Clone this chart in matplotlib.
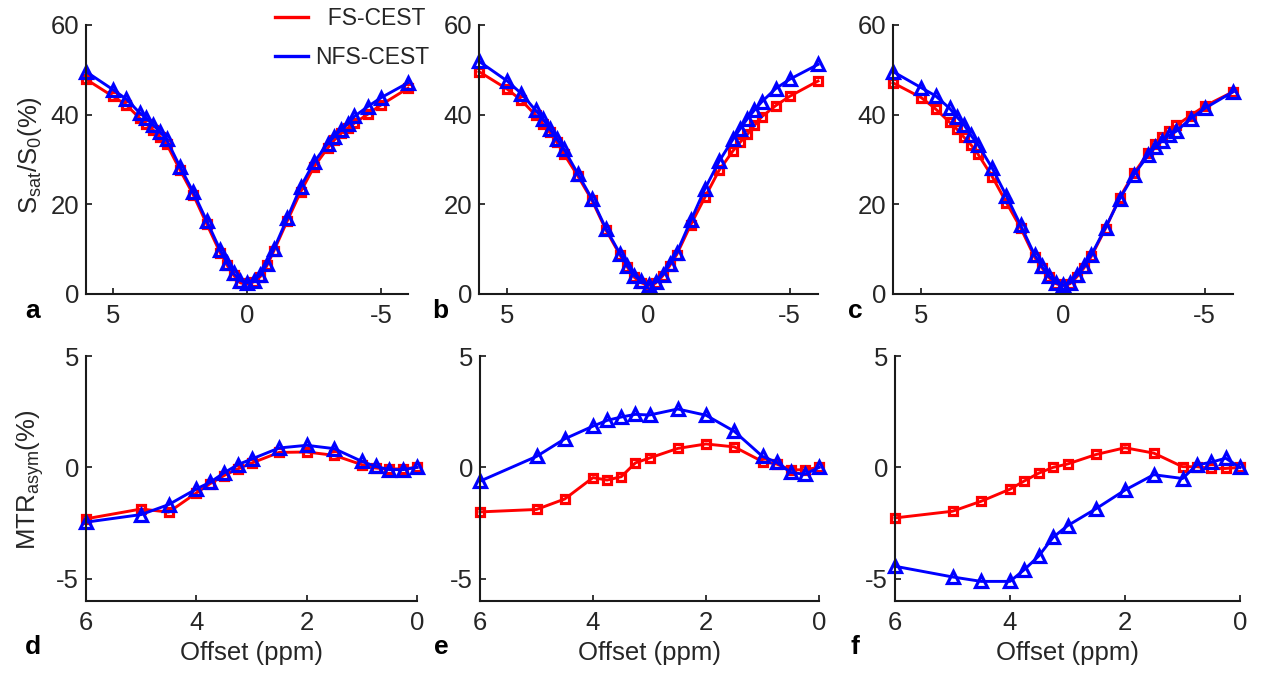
import matplotlib
matplotlib.use('Agg')
import matplotlib.pyplot as plt
from matplotlib.lines import Line2D

plt.rcParams['font.family'] = ['Liberation Sans', 'DejaVu Sans']
plt.rcParams['mathtext.default'] = 'regular'
plt.rcParams['axes.unicode_minus'] = False

# Z-spectrum offsets (ppm), 6 -> -6
z_off = [6, 5, 4.5, 4, 3.75, 3.5, 3.25, 3, 2.5, 2, 1.5, 1, 0.75, 0.5, 0.25, 0,
         -0.25, -0.5, -0.75, -1, -1.5, -2, -2.5, -3, -3.25, -3.5, -3.75, -4, -4.5, -5, -6]

fs_a = [47.9, 44.1, 42.2, 39.2, 37.9, 36.6, 35.1, 33.5, 27.7, 22.1, 15.6, 9.2, 6.5, 4.2, 2.5, 2.2,
        2.7, 3.9, 6.4, 9.6, 16.3, 22.8, 28.4, 32.5, 34.3, 35.8, 37.0, 38.1, 40.1, 42.2, 45.9]
nfs_a = [49.6, 45.6, 43.5, 40.4, 39.2, 37.7, 36.2, 34.5, 28.4, 22.7, 16.3, 9.8, 7.0, 4.6, 3.0, 2.5,
         3.0, 4.2, 6.8, 10.0, 16.9, 23.9, 29.4, 33.5, 35.1, 36.6, 37.9, 39.6, 41.8, 43.8, 47.1]

fs_b = [49.6, 45.7, 43.2, 39.9, 38.0, 36.1, 33.9, 31.3, 26.3, 20.9, 14.2, 8.6, 6.0, 3.7, 2.5, 1.9,
        2.4, 4.0, 6.3, 8.8, 15.5, 21.6, 27.6, 32.0, 33.9, 35.6, 37.6, 39.5, 42.0, 44.1, 47.5]
nfs_b = [51.9, 47.5, 44.7, 41.0, 39.1, 36.9, 34.6, 32.4, 26.8, 21.2, 14.5, 8.9, 6.3, 4.1, 2.8, 2.1,
         2.6, 4.3, 6.7, 9.2, 16.4, 23.5, 29.6, 34.6, 36.9, 39.1, 41.0, 42.8, 45.8, 47.9, 51.2]

fs_c = [47.1, 43.8, 41.3, 38.3, 36.8, 35.0, 33.3, 31.2, 26.2, 20.4, 14.8, 8.2, 5.9, 3.7, 2.3, 1.8,
        2.3, 3.9, 5.9, 8.4, 14.6, 21.5, 26.9, 31.4, 33.5, 35.1, 36.3, 37.6, 39.8, 41.9, 45.1]
nfs_c = [49.6, 46.0, 44.2, 41.4, 39.5, 37.8, 35.4, 33.3, 28.1, 21.9, 15.4, 8.7, 6.2, 4.0, 2.5, 1.9,
         2.5, 4.2, 6.2, 8.7, 14.8, 21.2, 26.6, 30.9, 32.7, 34.2, 35.4, 36.3, 39.1, 41.4, 45.1]

# MTRasym offsets (ppm)
m_off = [6, 5, 4.5, 4, 3.75, 3.5, 3.25, 3, 2.5, 2, 1.5, 1, 0.75, 0.5, 0.25, 0]

fs_d = [-2.31, -1.87, -2.01, -1.15, -0.73, -0.37, -0.07, 0.19, 0.67, 0.69, 0.54, 0.12, -0.03, -0.07, -0.07, 0]
nfs_d = [-2.46, -2.12, -1.67, -0.97, -0.67, -0.25, 0.12, 0.37, 0.87, 0.99, 0.84, 0.27, 0.04, -0.10, -0.10, 0]
fs_e = [-2.0, -1.89, -1.42, -0.46, -0.57, -0.42, 0.2, 0.42, 0.85, 1.05, 0.92, 0.26, 0.15, -0.11, -0.11, 0]
nfs_e = [-0.62, 0.49, 1.28, 1.85, 2.11, 2.26, 2.38, 2.35, 2.62, 2.34, 1.62, 0.49, 0.23, -0.23, -0.31, 0]
fs_f = [-2.27, -1.97, -1.52, -0.98, -0.61, -0.26, 0.0, 0.15, 0.58, 0.88, 0.64, 0.03, 0.03, -0.05, -0.05, 0]
nfs_f = [-4.44, -4.92, -5.12, -5.12, -4.59, -3.98, -3.14, -2.62, -1.85, -1.02, -0.33, -0.5, 0.11, 0.23, 0.41, 0]

W, H = 1264, 675
fig = plt.figure(figsize=(W / 100, H / 100), dpi=100)
tc = '#262626'
fsz = 18.5


def box(l, r, t, b):
    # pixel box -> figure fraction
    return [l / W, 1 - b / H, (r - l) / W, (b - t) / H]


def style(ax):
    for s in ['top', 'right']:
        ax.spines[s].set_visible(False)
    for s in ['left', 'bottom']:
        ax.spines[s].set_linewidth(1.5)
        ax.spines[s].set_color('#1a1a1a')
    ax.tick_params(direction='in', length=4, width=1.3, labelsize=fsz,
                   colors=tc, pad=5)
    ax.tick_params(axis='x', pad=7)


def draw(ax, x, fs, nfs):
    ax.plot(x, fs, color='r', lw=2.1, marker='s', ms=6, mfc='none', mew=2.3, clip_on=False)
    ax.plot(x, nfs, color='b', lw=2.1, marker='^', ms=9, mfc='none', mew=2.3, clip_on=False)


top = [((86, 408), fs_a, nfs_a, 'a', 33), ((479, 818), fs_b, nfs_b, 'b', 440),
       ((893, 1233), fs_c, nfs_c, 'c', 855)]
for (l, r), fs, nfs, lab, lx in top:
    ax = fig.add_axes(box(l, r, 25, 294))
    draw(ax, z_off, fs, nfs)
    ax.set_xlim(6, -6)
    ax.set_ylim(0, 60)
    ax.set_xticks([5, 0, -5])
    ax.set_yticks([0, 20, 40, 60])
    style(ax)
    fig.text(lx / W, 1 - 311 / H, lab, fontsize=19, fontweight='bold',
             ha='center', va='center')
    if lab == 'a':
        hl = [Line2D([], [], color='r', lw=2.4), Line2D([], [], color='b', lw=2.4)]
        fig.legend(hl, ['  FS-CEST', 'NFS-CEST'], loc='upper left',
                   bbox_to_anchor=(275 / W, 1 - 7 / H), frameon=False,
                   borderpad=0, borderaxespad=0,
                   fontsize=16.5, handlelength=1.45, handletextpad=0.3,
                   labelspacing=0.7, labelcolor=tc)

bot = [((86, 417), fs_d, nfs_d, 'd', 33), ((480, 819), fs_e, nfs_e, 'e', 441),
       ((895, 1240), fs_f, nfs_f, 'f', 855)]
for (l, r), fs, nfs, lab, lx in bot:
    ax = fig.add_axes(box(l, r, 356, 601))
    draw(ax, m_off, fs, nfs)
    ax.set_xlim(6, 0)
    ax.set_ylim(-6, 5)
    ax.set_xticks([6, 4, 2, 0])
    ax.set_yticks([-5, 0, 5])
    style(ax)
    fig.text((l + r) / 2 / W, 1 - 653 / H, 'Offset (ppm)', fontsize=fsz,
             color=tc, ha='center', va='center')
    fig.text(lx / W, 1 - 647 / H, lab, fontsize=19, fontweight='bold',
             ha='center', va='center')

fig.text(30 / W, 1 - 155 / H, r'S$_{sat}$/S$_0$(%)', rotation=90, fontsize=fsz,
         color=tc, ha='center', va='center')
fig.text(30 / W, 1 - 480 / H, r'MTR$_{asym}$(%)', rotation=90, fontsize=fsz,
         color=tc, ha='center', va='center')

fig.savefig('out.png', dpi=100)
